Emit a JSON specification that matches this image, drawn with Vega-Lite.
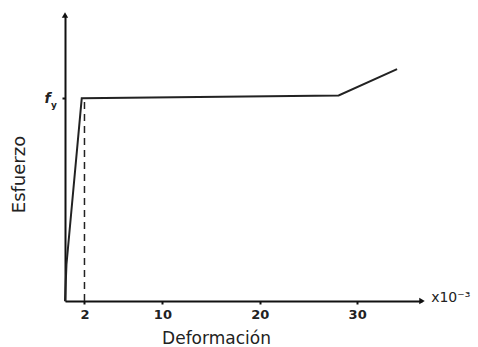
{
  "$schema": "https://vega.github.io/schema/vega-lite/v6.json",
  "autosize": {"type": "none"},
  "padding": {"left": 65, "top": 15, "right": 56, "bottom": 46},
  "width": 357,
  "height": 286,
  "background": "white",
  "config": {"view": {"stroke": null}, "font": "DejaVu Sans"},
  "datasets": {
    "curve": [
      {"e": 0, "s": 0},
      {"e": 0.15, "s": 0.18},
      {"e": 1.72, "s": 1.0},
      {"e": 28.1, "s": 1.013},
      {"e": 34.1, "s": 1.143}
    ],
    "dash": [{"e": 2, "s0": 0, "s1": 1.0}],
    "yarrow": [{"e": 0, "s": 1.41}],
    "xarrow": [{"e": 36.66, "s": 0}],
    "sub": [{"e": 0, "s": 1.0, "t": "y"}],
    "unit": [{"e": 37.6, "s": 0, "t": "x10⁻³"}]
  },
  "layer": [
    {
      "data": {"name": "curve"},
      "mark": {"type": "line", "color": "#222", "strokeWidth": 2},
      "encoding": {
        "x": {
          "field": "e", "type": "quantitative",
          "scale": {"domain": [0, 36.66], "nice": false, "zero": false},
          "axis": {
            "values": [2, 10, 20, 30],
            "grid": false,
            "domainColor": "#111",
            "domainWidth": 2,
            "tickColor": "#111",
            "tickSize": 3,
            "tickWidth": 2,
            "tickOffset": 0,
            "labelFontSize": 13,
            "labelFontWeight": "bold",
            "labelColor": "#222",
            "labelPadding": 4,
            "title": "Deformación",
            "titleFontSize": 17,
            "titleFontWeight": "normal",
            "titleColor": "#222",
            "titleX": 151,
            "titleY": 37,
            "titleBaseline": "middle"
          }
        },
        "y": {
          "field": "s", "type": "quantitative",
          "scale": {"domain": [0, 1.41], "nice": false, "zero": false},
          "axis": {
            "values": [1],
            "labelExpr": "'f'",
            "grid": false,
            "domainColor": "#111",
            "domainWidth": 2,
            "tickColor": "#111",
            "tickSize": 3,
            "tickWidth": 2,
            "labelFontSize": 14,
            "labelFontStyle": "italic",
            "labelFontWeight": "bold",
            "labelColor": "#222",
            "labelPadding": 12,
            "title": "Esfuerzo",
            "titleFontSize": 18,
            "titleFontWeight": "normal",
            "titleColor": "#222",
            "titleX": -46,
            "titleY": 159,
            "titleBaseline": "middle",
            "titleAlign": "center"
          }
        }
      }
    },
    {
      "data": {"name": "dash"},
      "mark": {"type": "rule", "color": "#222", "strokeWidth": 1.5, "strokeDash": [7, 5]},
      "encoding": {
        "x": {"field": "e", "type": "quantitative"},
        "y": {"field": "s0", "type": "quantitative"},
        "y2": {"field": "s1"}
      }
    },
    {
      "data": {"name": "yarrow"},
      "mark": {"type": "point", "shape": "triangle-up", "filled": true, "color": "#111", "size": 40, "opacity": 1},
      "encoding": {
        "x": {"field": "e", "type": "quantitative"},
        "y": {"field": "s", "type": "quantitative"}
      }
    },
    {
      "data": {"name": "xarrow"},
      "mark": {"type": "point", "shape": "triangle-right", "filled": true, "color": "#111", "size": 40, "opacity": 1},
      "encoding": {
        "x": {"field": "e", "type": "quantitative"},
        "y": {"field": "s", "type": "quantitative"}
      }
    },
    {
      "data": {"name": "sub"},
      "mark": {"type": "text", "align": "left", "baseline": "middle", "dx": -14, "dy": 7, "fontSize": 9, "fontWeight": "bold", "color": "#222"},
      "encoding": {
        "x": {"field": "e", "type": "quantitative"},
        "y": {"field": "s", "type": "quantitative"},
        "text": {"field": "t"}
      }
    },
    {
      "data": {"name": "unit"},
      "mark": {"type": "text", "align": "left", "baseline": "middle", "dy": -3, "fontSize": 14, "color": "#222"},
      "encoding": {
        "x": {"field": "e", "type": "quantitative"},
        "y": {"field": "s", "type": "quantitative"},
        "text": {"field": "t"}
      }
    }
  ]
}
